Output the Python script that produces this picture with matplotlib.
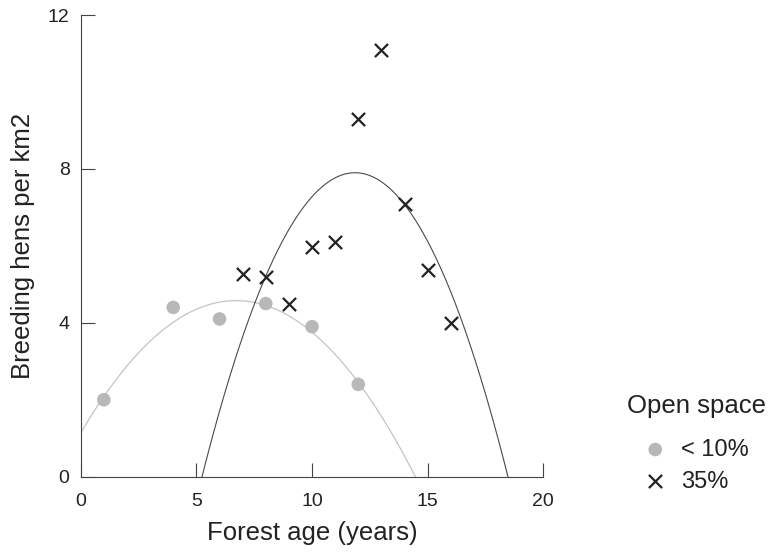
import numpy as np
import matplotlib
matplotlib.use('Agg')
import matplotlib.pyplot as plt

# data
age_low = [1, 4, 6, 8, 10, 12]
hens_low = [2.0, 4.4, 4.1, 4.5, 3.9, 2.4]

age_open = [7, 8, 9, 10, 11, 12, 13, 14, 15, 16]
hens_open = [5.27, 5.19, 4.49, 5.98, 6.09, 9.30, 11.10, 7.09, 5.38, 3.99]

x_ticks = [0, 5, 10, 15, 20]
y_ticks = [0, 4, 8, 12]
legend_labels = ['< 10%', '35%']

plt.rcParams['font.family'] = ['Liberation Sans', 'DejaVu Sans']
txt = '#222222'

fig = plt.figure(figsize=(7.77, 5.52), dpi=100)
ax = fig.add_axes([0.1039, 0.1364, 0.5953, 0.8364])

# quadratic fits drawn across the whole axis, clipped at y=0
xx = np.linspace(0, 20, 400)
fit_low = np.polyfit(age_low, hens_low, 2)
fit_open = np.polyfit(age_open, hens_open, 2)
ax.plot(xx, np.polyval(fit_low, xx), color='#c4c4c4', lw=0.9, zorder=1)
ax.plot(xx, np.polyval(fit_open, xx), color='#4a4a4a', lw=0.8, zorder=1)

ax.scatter(age_low, hens_low, s=95, color='#b8b8b8', edgecolors='none',
           label=legend_labels[0], zorder=2)
ax.scatter(age_open, hens_open, s=90, marker='x', color='#222222',
           linewidths=1.6, label=legend_labels[1], zorder=3)

ax.set_xlim(0, 20)
ax.set_ylim(0, 12)
ax.set_xticks(x_ticks)
ax.set_yticks(y_ticks)
for s in ['top', 'right']:
    ax.spines[s].set_visible(False)
for s in ['left', 'bottom']:
    ax.spines[s].set_color('#444444')
    ax.spines[s].set_linewidth(0.8)
ax.tick_params(direction='in', length=10, width=0.8, color='#444444',
               labelsize=14, labelcolor=txt)
ax.tick_params(axis='x', pad=11.5)
ax.tick_params(axis='y', pad=8)

ax.set_xlabel('Forest age (years)', fontsize=18.5, color=txt, labelpad=8)
ax.set_ylabel('Breeding hens per km2', fontsize=18.5, color=txt, labelpad=9)

leg = ax.legend(title='Open space', loc='center', bbox_to_anchor=(0.896, 0.197),
                bbox_transform=fig.transFigure, frameon=False, fontsize=17,
                title_fontsize=18.5, handlelength=1.0, handletextpad=0.6,
                labelspacing=0.42, alignment='center')
leg.get_title().set_color(txt)
for t in leg.get_texts():
    t.set_color(txt)
leg._legend_box.sep = 15

fig.savefig('out.png', dpi=100)
